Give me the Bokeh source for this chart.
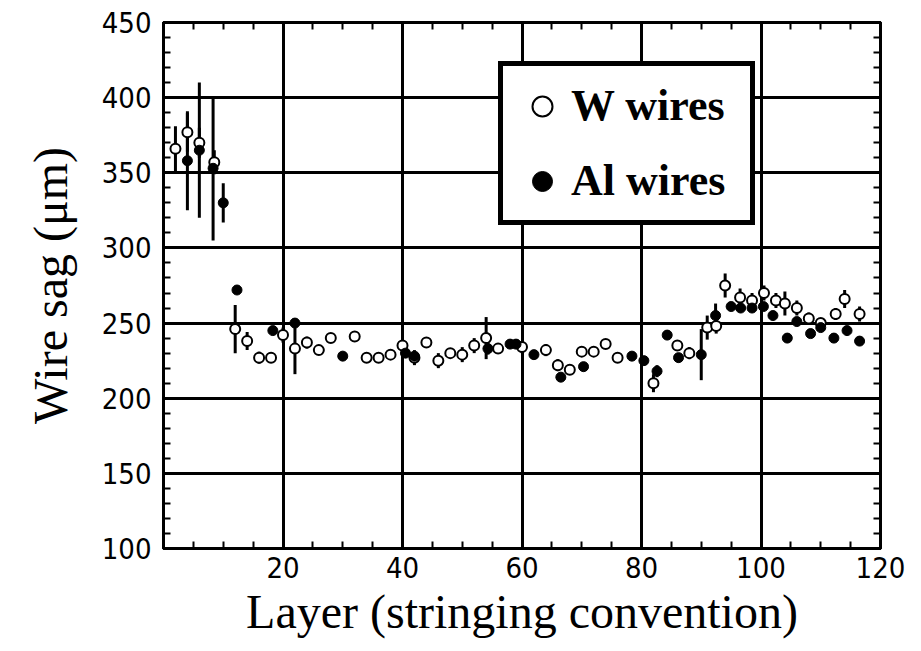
from bokeh.plotting import figure
from bokeh.models import (ColumnDataSource, FixedTicker, LinearAxis, Legend,
                          LegendItem, Range1d)
from bokeh.embed import file_html
from bokeh.resources import INLINE

# ---- data: W wires (open circles) ----
w_x = [2, 4, 6, 8.5, 12, 14, 16, 18, 20, 22, 24, 26, 28, 32, 34, 36, 38, 40,
       42, 44, 46, 48, 50, 52, 54, 56, 60, 64, 66, 68, 70, 72, 74, 76, 82, 86,
       88, 91, 92.5, 94, 96.5, 98.5, 100.5, 102.5, 104, 106, 108, 110, 112.5,
       114, 116.5]
w_y = [366, 377, 370, 357, 246, 238, 227, 227, 242, 233, 237, 232, 240, 241,
       227, 227, 229, 235, 227, 237, 225, 230, 229, 235, 240, 233, 234, 232,
       222, 219, 231, 231, 236, 227, 210, 235, 230, 247, 248, 275, 267, 265,
       270, 265, 263, 260, 253, 250, 256, 266, 256]
w_err = [15, 13, 10, 8, 16, 6, 4, 3, 5, 17, 4, 3, 3, 3, 3, 3, 3, 3, 5, 3, 5,
         3, 5, 5, 14, 3, 4, 4, 4, 3, 3, 3, 3, 3, 6, 3, 4, 8, 5, 8, 6, 5, 5, 5,
         8, 5, 4, 3, 4, 6, 5]

# ---- data: Al wires (filled circles) ----
al_x = [4, 6, 8.3, 10, 12.3, 18.3, 22, 30, 40.5, 42, 54.3, 58, 59, 62, 66.5,
        70.3, 78.4, 80.4, 82.6, 84.3, 86.2, 90, 92.4, 95, 96.6, 98.5, 100.4,
        102, 104.4, 106, 108.3, 110, 112.2, 114.4, 116.5]
al_y = [358, 365, 353, 330, 272, 245, 250, 228, 230, 228, 233, 236, 236, 229,
        214, 221, 228, 225, 218, 242, 227, 229, 255, 261, 260, 260, 261, 255,
        240, 251, 243, 247, 240, 245, 238]
al_err = [33, 45, 48, 13, 2, 3, 3, 3, 3, 3, 4, 3, 3, 3, 3, 3, 3, 3, 4, 3, 3,
          17, 8, 3, 3, 3, 3, 3, 3, 3, 3, 3, 3, 3, 3]

x_ticks = [0, 20, 40, 60, 80, 100, 120]
x_minor = list(range(0, 121, 5))
y_ticks = [100, 150, 200, 250, 300, 350, 400, 450]
y_minor = list(range(100, 451, 10))

w_src = ColumnDataSource(dict(x=w_x, y=w_y,
                              lo=[a - b for a, b in zip(w_y, w_err)],
                              hi=[a + b for a, b in zip(w_y, w_err)]))
al_src = ColumnDataSource(dict(x=al_x, y=al_y,
                               lo=[a - b for a, b in zip(al_y, al_err)],
                               hi=[a + b for a, b in zip(al_y, al_err)]))

p = figure(width=905, height=643, x_range=Range1d(0, 120),
           y_range=Range1d(100, 450), output_backend="svg",
           toolbar_location=None, min_border_left=163, min_border_right=25,
           min_border_top=22, min_border_bottom=95,
           x_axis_label="Layer (stringing convention)",
           y_axis_label="Wire sag (μm)")

p.outline_line_color = "black"
p.outline_line_width = 3
p.background_fill_color = "white"
p.border_fill_color = "white"

TICK_FONT = "DejaVu Sans Condensed"

def style_axis(ax, ticks, minor, labels=True):
    ax.ticker = FixedTicker(ticks=ticks, minor_ticks=minor)
    ax.axis_line_color = "black"
    ax.axis_line_width = 3
    ax.major_tick_in = 14
    ax.major_tick_out = 0
    ax.minor_tick_in = 7
    ax.minor_tick_out = 0
    ax.major_tick_line_width = 3
    ax.minor_tick_line_width = 2
    ax.major_tick_line_color = "black"
    ax.minor_tick_line_color = "black"
    if labels:
        ax.major_label_text_font = TICK_FONT
        ax.major_label_text_font_size = "29px"
        ax.major_label_text_color = "black"
    else:
        ax.major_label_text_font_size = "0px"
        ax.major_label_text_alpha = 0

style_axis(p.xaxis[0], x_ticks, x_minor)
style_axis(p.yaxis[0], y_ticks, y_minor)
p.xaxis[0].major_label_overrides = {0: ""}
p.xaxis[0].major_label_standoff = 8
p.yaxis[0].major_label_standoff = 12

for ax in (p.xaxis[0], p.yaxis[0]):
    ax.axis_label_text_font = "Liberation Serif"
    ax.axis_label_text_font_size = "48px"
    ax.axis_label_text_font_style = "normal"
    ax.axis_label_text_color = "black"
p.xaxis[0].axis_label_standoff = 4
p.yaxis[0].axis_label_standoff = 22

ax_r = LinearAxis()
style_axis(ax_r, y_ticks, y_minor, labels=False)
p.add_layout(ax_r, "right")
ax_t = LinearAxis()
style_axis(ax_t, x_ticks, x_minor, labels=False)
p.add_layout(ax_t, "above")

p.xgrid.ticker = FixedTicker(ticks=x_ticks)
p.ygrid.ticker = FixedTicker(ticks=y_ticks)
for g in (p.xgrid[0], p.ygrid[0]):
    g.grid_line_color = "black"
    g.grid_line_width = 3
    g.grid_line_alpha = 1

# error bars
p.segment(x0="x", y0="lo", x1="x", y1="hi", source=w_src,
          line_color="black", line_width=3)
p.segment(x0="x", y0="lo", x1="x", y1="hi", source=al_src,
          line_color="black", line_width=3)

w_r = p.scatter("x", "y", source=w_src, marker="circle", size=10,
                fill_color="white", line_color="black", line_width=2)
al_r = p.scatter("x", "y", source=al_src, marker="circle", size=10,
                 fill_color="black", line_color="black", line_width=1)

legend = Legend(items=[LegendItem(label="W wires", renderers=[w_r]),
                       LegendItem(label="Al wires", renderers=[al_r])],
                location=(335, 323))
legend.border_line_color = "black"
legend.border_line_width = 5
legend.border_line_alpha = 1
legend.background_fill_color = "white"
legend.background_fill_alpha = 1
legend.padding = 14
legend.margin = 0
legend.spacing = 24
legend.glyph_width = 50
legend.glyph_height = 50
legend.label_standoff = 4
legend.label_width = 165
legend.label_height = 50
legend.label_text_font = "Liberation Serif"
legend.label_text_font_style = "bold"
legend.label_text_font_size = "44px"
legend.label_text_color = "black"
legend.label_text_baseline = "middle"
p.add_layout(legend)

open("out.html", "w").write(file_html(p, INLINE))
